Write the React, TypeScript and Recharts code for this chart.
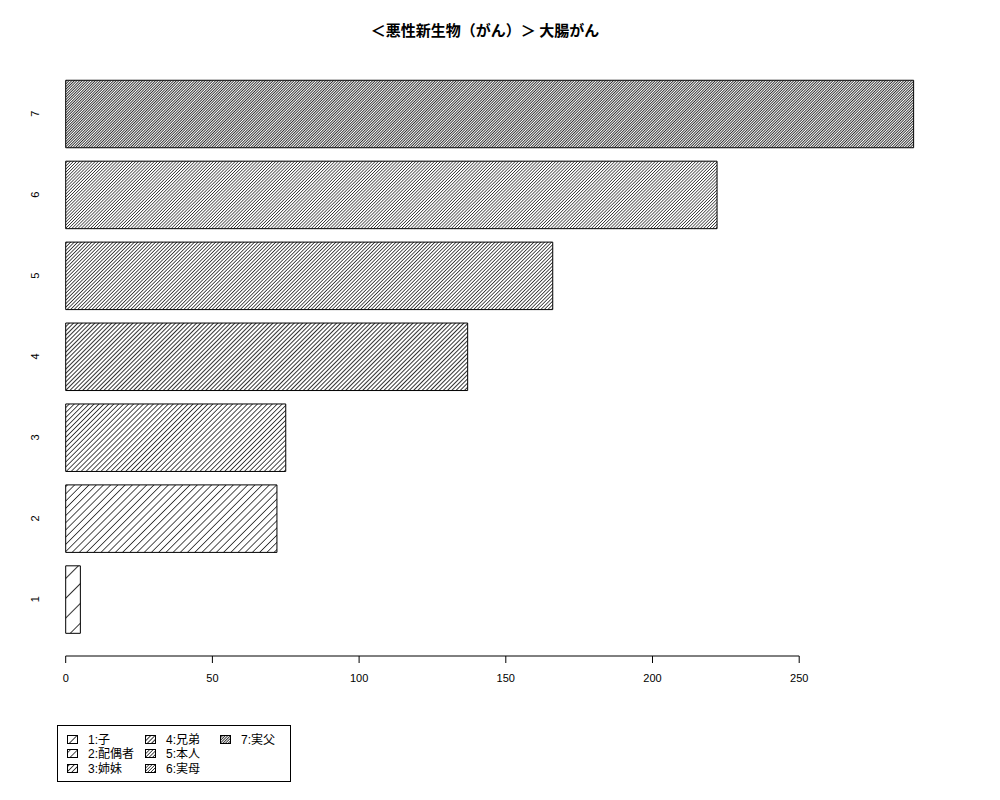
import { Bar, BarChart, Cell, ReferenceLine, XAxis, YAxis } from "recharts";

const categories = ["1", "2", "3", "4", "5", "6", "7"];
const counts = [5, 72, 75, 137, 166, 222, 289];
const seriesLabels = ["1:子", "2:配偶者", "3:姉妹", "4:兄弟", "5:本人", "6:実母", "7:実父"];
const xTicks = [0, 50, 100, 150, 200, 250];
const titleText = "＜悪性新生物（がん）＞ 大腸がん";

// perpendicular gap between hatch lines, per bar
const hatchGap = [14, 5.1, 3.5, 3.0, 2.5, 2.2, 1.85];

const data = categories.map((name, i) => ({ name, value: counts[i] }));

const FONT = "'Liberation Sans', Arial, 'Noto Sans CJK JP', sans-serif";

function HatchDefs() {
  return (
    <svg width={0} height={0} style={{ position: "absolute" }}>
      <defs>
        {hatchGap.map((g, i) => (
          <pattern key={i} id={`hatch-${i}`} patternUnits="userSpaceOnUse"
            width={g} height={g} patternTransform="rotate(45)">
            <rect width={g} height={g} fill="#fff" />
            <line x1={g / 2} y1={-1} x2={g / 2} y2={g + 1} stroke="#000" strokeWidth={0.8}
              shapeRendering="crispEdges" />
          </pattern>
        ))}
      </defs>
    </svg>
  );
}

function YTick({ y, payload }: any) {
  return (
    <text x={35} y={y} transform={`rotate(-90, 35, ${y})`} textAnchor="middle"
      dominantBaseline="central" fontSize={11} fontFamily={FONT} fill="#000">
      {payload.value}
    </text>
  );
}

function LegendBox() {
  const rows = 3;
  return (
    <div style={{
      position: "absolute", left: 57, top: 725, width: 232, height: 55,
      border: "1px solid #000", fontFamily: FONT, fontSize: 12, background: "#fff",
    }}>
      {seriesLabels.map((label, i) => {
        const col = Math.floor(i / rows);
        const row = i % rows;
        const colX = [9, 87, 162][col];
        return (
          <div key={i} style={{ position: "absolute", left: colX, top: 6.5 + row * 14.5, height: 14, display: "flex", alignItems: "center" }}>
            <svg width={12} height={10} style={{ marginRight: 9 }}>
              <rect x={0.5} y={0.5} width={10} height={8} fill={`url(#hatch-${i})`} stroke="#000" strokeWidth={1} />
            </svg>
            <span style={{ lineHeight: "14px" }}>{label}</span>
          </div>
        );
      })}
    </div>
  );
}

export default function App() {
  return (
    <div style={{ position: "absolute", left: 0, top: 0, width: 1000, height: 800, background: "#fff" }}>
      <HatchDefs />
      <div style={{
        position: "absolute", left: 0, width: 970, top: 19, textAlign: "center",
        fontFamily: "'Noto Sans CJK JP', sans-serif", fontWeight: 700, fontSize: 15, color: "#000",
      }}>
        {titleText}
      </div>
      <BarChart width={1000} height={800} data={data} layout="vertical"
        margin={{ top: 73.25, right: 54.1, left: 15.7, bottom: 114 }}>
        <XAxis type="number" domain={[0, 300]} ticks={xTicks} axisLine={false}
          tickSize={7} tickMargin={11} height={30} interval={0}
          tickLine={{ stroke: "#000" }}
          tick={{ fontSize: 11, fontFamily: FONT, fill: "#000" }} />
        <YAxis type="category" dataKey="name" reversed width={50}
          axisLine={false} tickLine={false} tick={<YTick />}
          padding={{ top: 0, bottom: 16.25 }} />
        <YAxis yAxisId="base" type="number" domain={[0, 1]} hide reversed allowDataOverflow />
        <ReferenceLine yAxisId="base" segment={[{ x: 0, y: 0 }, { x: 250, y: 0 }]}
          stroke="#000" strokeWidth={1} />
        <Bar dataKey="value" barSize={67.5} stroke="#000" strokeWidth={1} isAnimationActive={false}>
          {data.map((_, i) => <Cell key={i} fill={`url(#hatch-${i})`} />)}
        </Bar>
      </BarChart>
      <LegendBox />
    </div>
  );
}
